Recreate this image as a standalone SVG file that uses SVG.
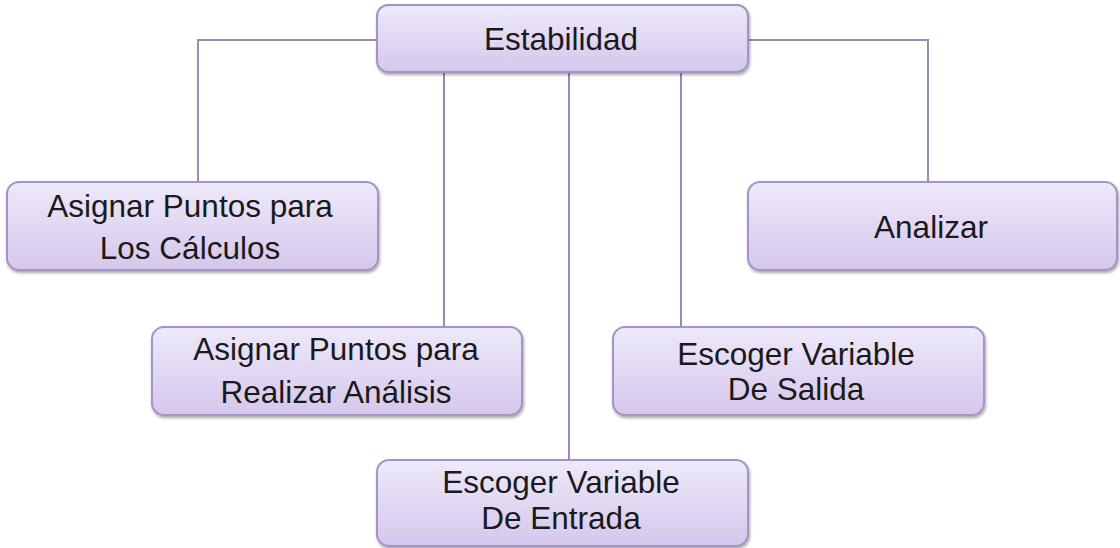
<svg xmlns="http://www.w3.org/2000/svg" width="1120" height="548" viewBox="0 0 1120 548">
<defs>
<linearGradient id="g" x1="0" y1="0" x2="0" y2="1">
<stop offset="0" stop-color="#eee9fa"/>
<stop offset="1" stop-color="#d5c7ec"/>
</linearGradient>
<filter id="sh" x="-5%" y="-10%" width="110%" height="130%">
<feGaussianBlur in="SourceAlpha" stdDeviation="1.5"/>
<feOffset dx="1" dy="2" result="b"/>
<feComponentTransfer><feFuncA type="linear" slope="0.35"/></feComponentTransfer>
<feMerge><feMergeNode/><feMergeNode in="SourceGraphic"/></feMerge>
</filter>
</defs>
<style>
.box{fill:url(#g);stroke:#a593c6;stroke-width:2;filter:url(#sh)}
.t{font-family:"Liberation Sans",Arial,sans-serif;font-size:31.5px;fill:#1a1a1a;text-anchor:middle}
.c{fill:none;stroke:#9b87b8;stroke-width:2}
</style>
<rect width="1120" height="548" fill="#ffffff"/>
<g id="connectors">
<polyline class="c" points="377,40 198,40 198,182"/>
<polyline class="c" points="748,40 928,40 928,182"/>
<line class="c" x1="444" y1="72" x2="444" y2="327"/>
<line class="c" x1="569" y1="72" x2="569" y2="460"/>
<line class="c" x1="681" y1="72" x2="681" y2="327"/>
</g>
<g id="estabilidad">
<rect class="box" x="377" y="5" width="371" height="67" rx="11"/>
<text class="t" x="561" y="50">Estabilidad</text>
</g>
<g id="calculos">
<rect class="box" x="7" y="182" width="371" height="88" rx="12"/>
<text class="t" x="190" y="217">Asignar Puntos para</text>
<text class="t" x="190" y="259">Los Cálculos</text>
</g>
<g id="analizar">
<rect class="box" x="748" y="182" width="369" height="88" rx="12"/>
<text class="t" x="931" y="238">Analizar</text>
</g>
<g id="analisis">
<rect class="box" x="152" y="327" width="370" height="88" rx="12"/>
<text class="t" x="336" y="360">Asignar Puntos para</text>
<text class="t" x="336" y="403">Realizar Análisis</text>
</g>
<g id="salida">
<rect class="box" x="613" y="327" width="371" height="88" rx="12"/>
<text class="t" x="796" y="365">Escoger Variable</text>
<text class="t" x="796" y="400">De Salida</text>
</g>
<g id="entrada">
<rect class="box" x="377" y="460" width="371" height="86" rx="12"/>
<text class="t" x="561" y="493">Escoger Variable</text>
<text class="t" x="561" y="529">De Entrada</text>
</g>
</svg>
